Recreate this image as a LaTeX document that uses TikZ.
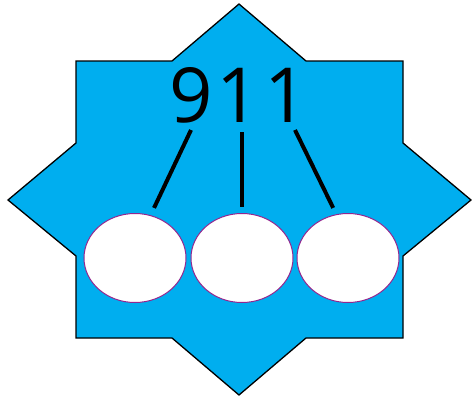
\documentclass[tikz,border=0pt]{standalone}
\usepackage{fontspec}
\setmainfont{Open Sans}
\usetikzlibrary{shapes.geometric}
\definecolor{starblue}{HTML}{00AEEF}
\definecolor{ringpurple}{HTML}{92278F}
\begin{document}
\begin{tikzpicture}[x=1pt,y=-1pt,every node/.style={inner sep=0pt},
  hole/.style={draw=ringpurple,line width=1pt,fill=white,ellipse,minimum width=102pt,minimum height=89pt},
  stick/.style={line width=4pt}]
\useasboundingbox (0,0) rectangle (472,399);
\draw[fill=starblue,line width=1.3pt] (239,4) -- (306,61) -- (403,61) -- (403,143) -- (471,200) -- (403,256) -- (403,338) -- (306,338) -- (239,395) -- (172,338) -- (76,338) -- (76,256) -- (8,200) -- (76,143) -- (76,61) -- (172,61) -- cycle;
\node[anchor=base,font=\fontsize{76}{76}\selectfont] (num) at (238.5,122) {9\kern4pt1\kern4pt1};
\node[hole] (e1) at (135,258) {};
\node[hole] (e2) at (242,258) {};
\node[hole] (e3) at (348,258) {};
\coordinate (s1) at (191,130);
\coordinate (s2) at (242,132);
\coordinate (s3) at (295,130);
\draw[stick,shorten >=8pt] (s1) -- (e1.70);
\draw[stick,shorten >=6pt] (s2) -- (e2.north);
\draw[stick,shorten >=7pt] (s3) -- (e3.105);
\end{tikzpicture}
\end{document}
